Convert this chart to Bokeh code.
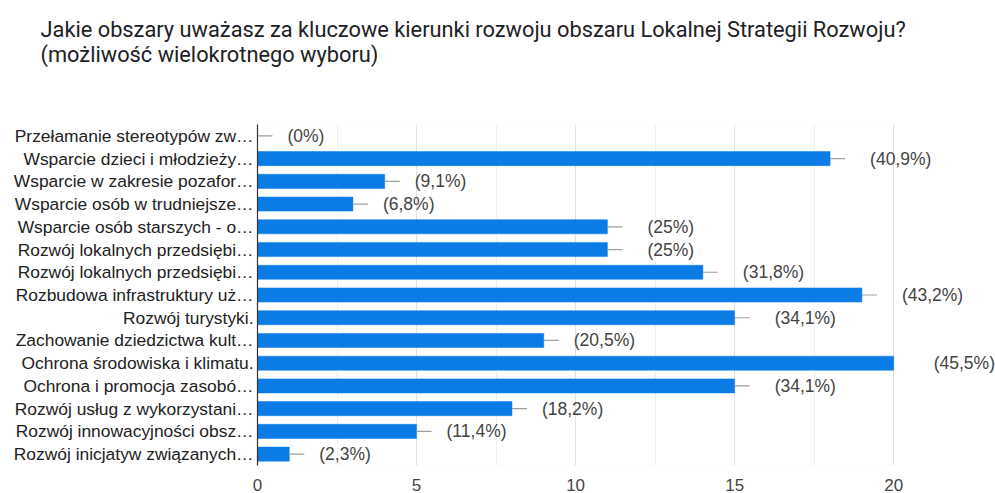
from bokeh.plotting import figure
from bokeh.models import (Title, Range1d, FixedTicker, ColumnDataSource, LabelSet,
                          BoxAnnotation, CDSView, BooleanFilter)
from bokeh.core.properties import value
from bokeh.embed import file_html
from bokeh.resources import INLINE

title_lines = [
    "Jakie obszary uważasz za kluczowe kierunki rozwoju obszaru Lokalnej Strategii Rozwoju?",
    "(możliwość wielokrotnego wyboru)",
]
categories = [
    "Przełamanie stereotypów zw…",
    "Wsparcie dzieci i młodzieży…",
    "Wsparcie w zakresie pozafor…",
    "Wsparcie osób w trudniejsze…",
    "Wsparcie osób starszych - o…",
    "Rozwój lokalnych przedsiębi…",
    "Rozwój lokalnych przedsiębi…",
    "Rozbudowa infrastruktury uż…",
    "Rozwój turystyki.",
    "Zachowanie dziedzictwa kult…",
    "Ochrona środowiska i klimatu.",
    "Ochrona i promocja zasobó…",
    "Rozwój usług z wykorzystani…",
    "Rozwój innowacyjności obsz…",
    "Rozwój inicjatyw związanych…",
]
counts = [0, 18, 4, 3, 11, 11, 14, 19, 15, 9, 20, 15, 8, 5, 1]
percent_labels = ["(0%)", "(40,9%)", "(9,1%)", "(6,8%)", "(25%)", "(25%)", "(31,8%)",
                  "(43,2%)", "(34,1%)", "(20,5%)", "(45,5%)", "(34,1%)", "(18,2%)",
                  "(11,4%)", "(2,3%)"]
x_ticks = [0, 5, 10, 15, 20]
x_minor = [2.5, 7.5, 12.5, 17.5]

rows = list(range(len(categories)))
offsets = [30 if c < 10 else 40 for c in counts]
src = ColumnDataSource(dict(y=rows, count=counts, label=percent_labels, off=offsets))

x_axis_max = x_ticks[-1]
p = figure(width=995, height=493, output_backend="svg", toolbar_location=None,
           x_range=Range1d(0, 23.2), y_range=Range1d(len(rows) - 0.5, -0.5),
           min_border_left=257, min_border_right=0, min_border_top=124, min_border_bottom=0,
           title=None)
p.outline_line_color = None
p.background_fill_color = "white"
p.border_fill_color = "white"

# light frame around the value area (0 .. last tick)
frame_box = BoxAnnotation(left=x_ticks[0], right=x_axis_max, fill_color=None,
                          line_color="#e0e0e0", line_width=1, level="underlay")
p.add_layout(frame_box)

p.hbar(y="y", left=0, right="count", height=0.62, fill_color="#0b7ce6",
       line_color="#0b7ce6", line_width=0.5, source=src)
whisker_view = CDSView(filter=BooleanFilter([c < x_axis_max for c in counts]))
p.ray(x="count", y="y", length=15, length_units="screen", angle=0,
      line_color="#a0a0a0", line_width=1.2, source=src, view=whisker_view)

labels = LabelSet(x="count", y="y", text="label", x_offset="off", source=src,
                  text_baseline="middle", text_align="left", text_font_size="17.5px",
                  text_color="#444444", text_font=value("Liberation Sans"))
p.add_layout(labels)

p.xaxis.ticker = FixedTicker(ticks=x_ticks)
p.xaxis.axis_line_color = None
p.xaxis.major_tick_line_color = None
p.xaxis.minor_tick_line_color = None
p.xaxis.major_tick_out = 0
p.xaxis.major_tick_in = 0
p.xaxis.major_label_standoff = 13
p.xaxis.major_label_text_font_size = "17px"
p.xaxis.major_label_text_color = "#444444"
p.xaxis.major_label_text_font = "Liberation Sans"

p.yaxis.ticker = FixedTicker(ticks=rows)
p.yaxis.major_label_overrides = {i: c for i, c in zip(rows, categories)}
p.yaxis.axis_line_color = "#333333"
p.yaxis.axis_line_width = 1.2
p.yaxis.major_tick_line_color = None
p.yaxis.minor_tick_line_color = None
p.yaxis.major_tick_out = 0
p.yaxis.major_tick_in = 0
p.yaxis.major_label_standoff = 4
p.yaxis.major_label_text_font_size = "17.4px"
p.yaxis.major_label_text_color = "#222222"
p.yaxis.major_label_text_font = "Liberation Sans"

p.xgrid.ticker = FixedTicker(ticks=x_ticks, minor_ticks=x_minor)
p.xgrid.grid_line_color = "#e2e2e2"
p.xgrid.minor_grid_line_color = "#f0f0f0"
p.ygrid.grid_line_color = None

# empty spacer between the question text and the chart
spacer = Title(text=" ", text_font_size="1px", standoff=55)
p.add_layout(spacer, "above")

t = Title(text="\n".join(title_lines), align="left", offset=-217, text_font="Roboto",
          text_font_size="21.8px", text_color="#202124", text_font_style="normal",
          text_line_height=1.0, vertical_align="bottom", standoff=0)
p.add_layout(t, "above")

open("out.html", "w").write(file_html(p, INLINE))
